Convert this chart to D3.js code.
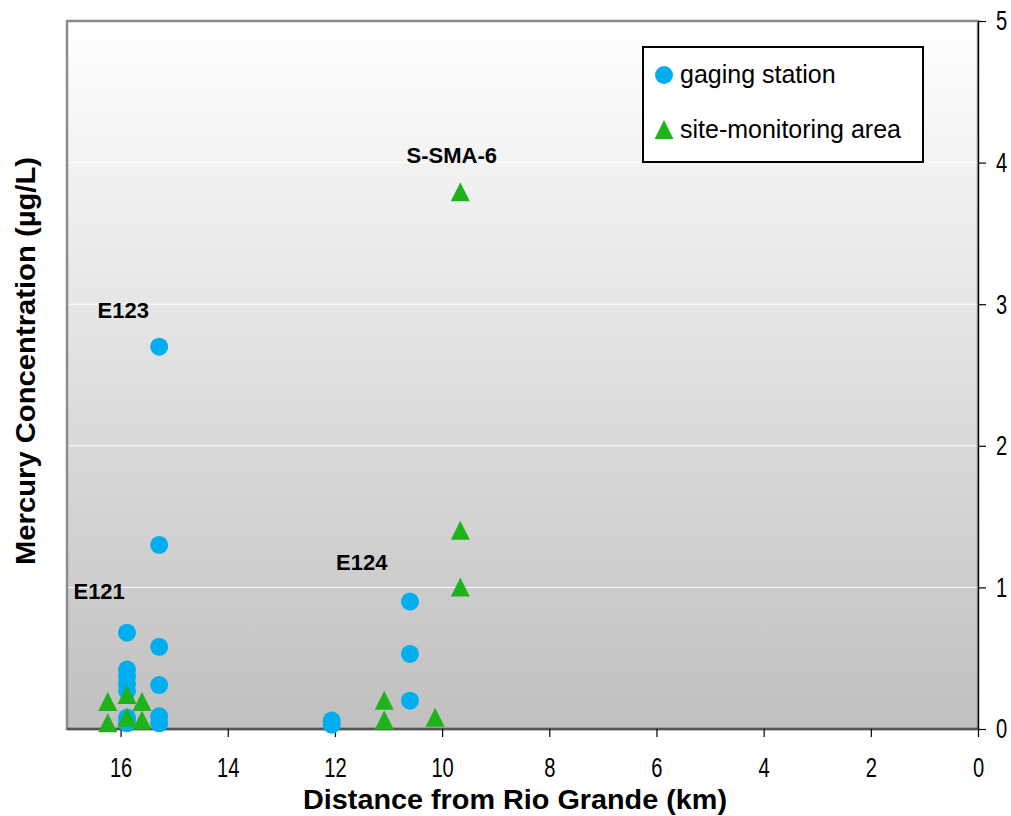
<!DOCTYPE html>
<html>
<head>
<meta charset="utf-8">
<script src="https://cdn.jsdelivr.net/npm/d3@7"></script>
<style>
  body { margin: 0; background: #fff; }
  svg { font-family: "Liberation Sans", Arial, sans-serif; }
</style>
</head>
<body>
<div id="chart"></div>
<script>
const GAGE_COLOR = "#00aeef";
const SMA_COLOR = "#1fb31b";

// gaging station samples: distance (km), mercury (ug/L)
const gageDist = [15.88, 15.88, 15.88, 15.88, 15.88, 15.88, 15.88,
                  15.28, 15.28, 15.28, 15.28, 15.28, 15.28,
                  12.06, 12.06,
                  10.6, 10.6, 10.6];
const gageHg = [0.68, 0.42, 0.37, 0.32, 0.27, 0.08, 0.04,
                2.70, 1.30, 0.58, 0.31, 0.09, 0.04,
                0.06, 0.03,
                0.90, 0.53, 0.20];

// site-monitoring area samples
const smaDist = [16.24, 16.24, 15.88, 15.88, 15.6, 15.6, 11.08, 11.08, 10.13, 9.66, 9.66, 9.66];
const smaHg = [0.19, 0.04, 0.24, 0.08, 0.19, 0.06, 0.20, 0.06, 0.08, 3.79, 1.40, 1.00];

const labels = ["E121", "E123", "E124", "S-SMA-6"];
const labelDist = [16.4, 15.95, 11.5, 9.82];
const labelHg = [0.92, 2.90, 1.12, 4.0];

const xTicks = [16, 14, 12, 10, 8, 6, 4, 2, 0];
const yTicks = [0, 1, 2, 3, 4, 5];

const W = 1011, H = 816;
const plotL = 67, plotR = 978, plotT = 21, plotB = 729;
const NARROW = 0.72;

const x = d3.scaleLinear().domain([17, 0]).range([plotL, plotR]);
const y = d3.scaleLinear().domain([0, 5]).range([plotB, plotT]);

const svg = d3.select("#chart").append("svg")
  .attr("width", W).attr("height", H);

const grad = svg.append("defs").append("linearGradient")
  .attr("id", "bg").attr("x1", 0).attr("y1", 0).attr("x2", 0).attr("y2", 1);
grad.append("stop").attr("offset", "0%").attr("stop-color", "#ffffff");
grad.append("stop").attr("offset", "100%").attr("stop-color", "#c0c0c0");

svg.append("rect")
  .attr("x", plotL).attr("y", plotT)
  .attr("width", plotR - plotL).attr("height", plotB - plotT)
  .attr("fill", "url(#bg)")
  .attr("stroke", "#8c8c8c").attr("stroke-width", 2.5);

// gridlines
svg.append("g").selectAll("line")
  .data(yTicks.filter(d => d > 0 && d < 5))
  .join("line")
  .attr("x1", plotL + 1.5).attr("x2", plotR - 1.5)
  .attr("y1", d => y(d)).attr("y2", d => y(d))
  .attr("stroke", "#ffffff").attr("stroke-width", 1);

// axes
const xAxis = svg.append("g")
  .attr("transform", `translate(0,${plotB})`)
  .call(d3.axisBottom(x).tickValues(xTicks).tickSize(8).tickPadding(20).tickFormat(d3.format("d")));
const yAxis = svg.append("g")
  .attr("transform", `translate(${plotR},0)`)
  .call(d3.axisRight(y).tickValues(yTicks).tickSize(8).tickPadding(10).tickFormat(d3.format("d")));

[xAxis, yAxis].forEach(a => {
  a.select(".domain").attr("stroke", "#000").attr("stroke-width", 1.2);
  a.selectAll(".tick line").attr("stroke", "#000").attr("stroke-width", 1.2);
  a.selectAll("text").attr("font-size", 28).attr("fill", "#000")
    .attr("font-family", "'Liberation Sans', Arial, sans-serif");
});
// narrow tick digits, as in the source chart
xAxis.selectAll(".tick text").attr("transform", `scale(${NARROW},1)`);
yAxis.selectAll(".tick text").each(function () {
  const t = d3.select(this);
  const tx = +t.attr("x");
  t.attr("x", tx / NARROW).attr("transform", `scale(${NARROW},1)`);
});
xAxis.select(".domain").attr("d", `M${plotL},0H${plotR}`).attr("stroke-width", 2.5).attr("stroke", "#555");

// points
svg.append("g").selectAll("circle")
  .data(gageDist.map((d, i) => [d, gageHg[i]]))
  .join("circle")
  .attr("cx", d => x(d[0])).attr("cy", d => y(d[1]))
  .attr("r", 9).attr("fill", GAGE_COLOR);

const tri = "M0,-10L9.5,9H-9.5Z";
svg.append("g").selectAll("path")
  .data(smaDist.map((d, i) => [d, smaHg[i]]))
  .join("path")
  .attr("d", tri)
  .attr("transform", d => `translate(${x(d[0])},${y(d[1])})`)
  .attr("fill", SMA_COLOR);

// site labels
svg.append("g").selectAll("text")
  .data(labels)
  .join("text")
  .attr("x", (d, i) => x(labelDist[i]))
  .attr("y", (d, i) => y(labelHg[i]))
  .attr("text-anchor", "middle")
  .attr("font-size", 22).attr("font-weight", "bold")
  .text(d => d);

// axis titles
svg.append("text")
  .attr("x", 515).attr("y", 809)
  .attr("text-anchor", "middle")
  .attr("font-size", 28).attr("font-weight", "bold")
  .attr("textLength", 424).attr("lengthAdjust", "spacingAndGlyphs")
  .text("Distance from Rio Grande (km)");
svg.append("text")
  .attr("transform", "translate(35,361) rotate(-90)")
  .attr("text-anchor", "middle")
  .attr("font-size", 28).attr("font-weight", "bold")
  .attr("textLength", 408).attr("lengthAdjust", "spacingAndGlyphs")
  .text("Mercury Concentration (µg/L)");

// legend
const lg = svg.append("g").attr("transform", "translate(643,47)");
lg.append("rect").attr("width", 280).attr("height", 115)
  .attr("fill", "#fff").attr("stroke", "#000").attr("stroke-width", 2);
lg.append("circle").attr("cx", 21).attr("cy", 28).attr("r", 9).attr("fill", GAGE_COLOR);
lg.append("path").attr("d", tri).attr("transform", "translate(21,83)").attr("fill", SMA_COLOR);
lg.append("text").attr("x", 37).attr("y", 36).attr("font-size", 25).text("gaging station");
lg.append("text").attr("x", 37).attr("y", 91).attr("font-size", 25).text("site-monitoring area");
</script>
</body>
</html>
